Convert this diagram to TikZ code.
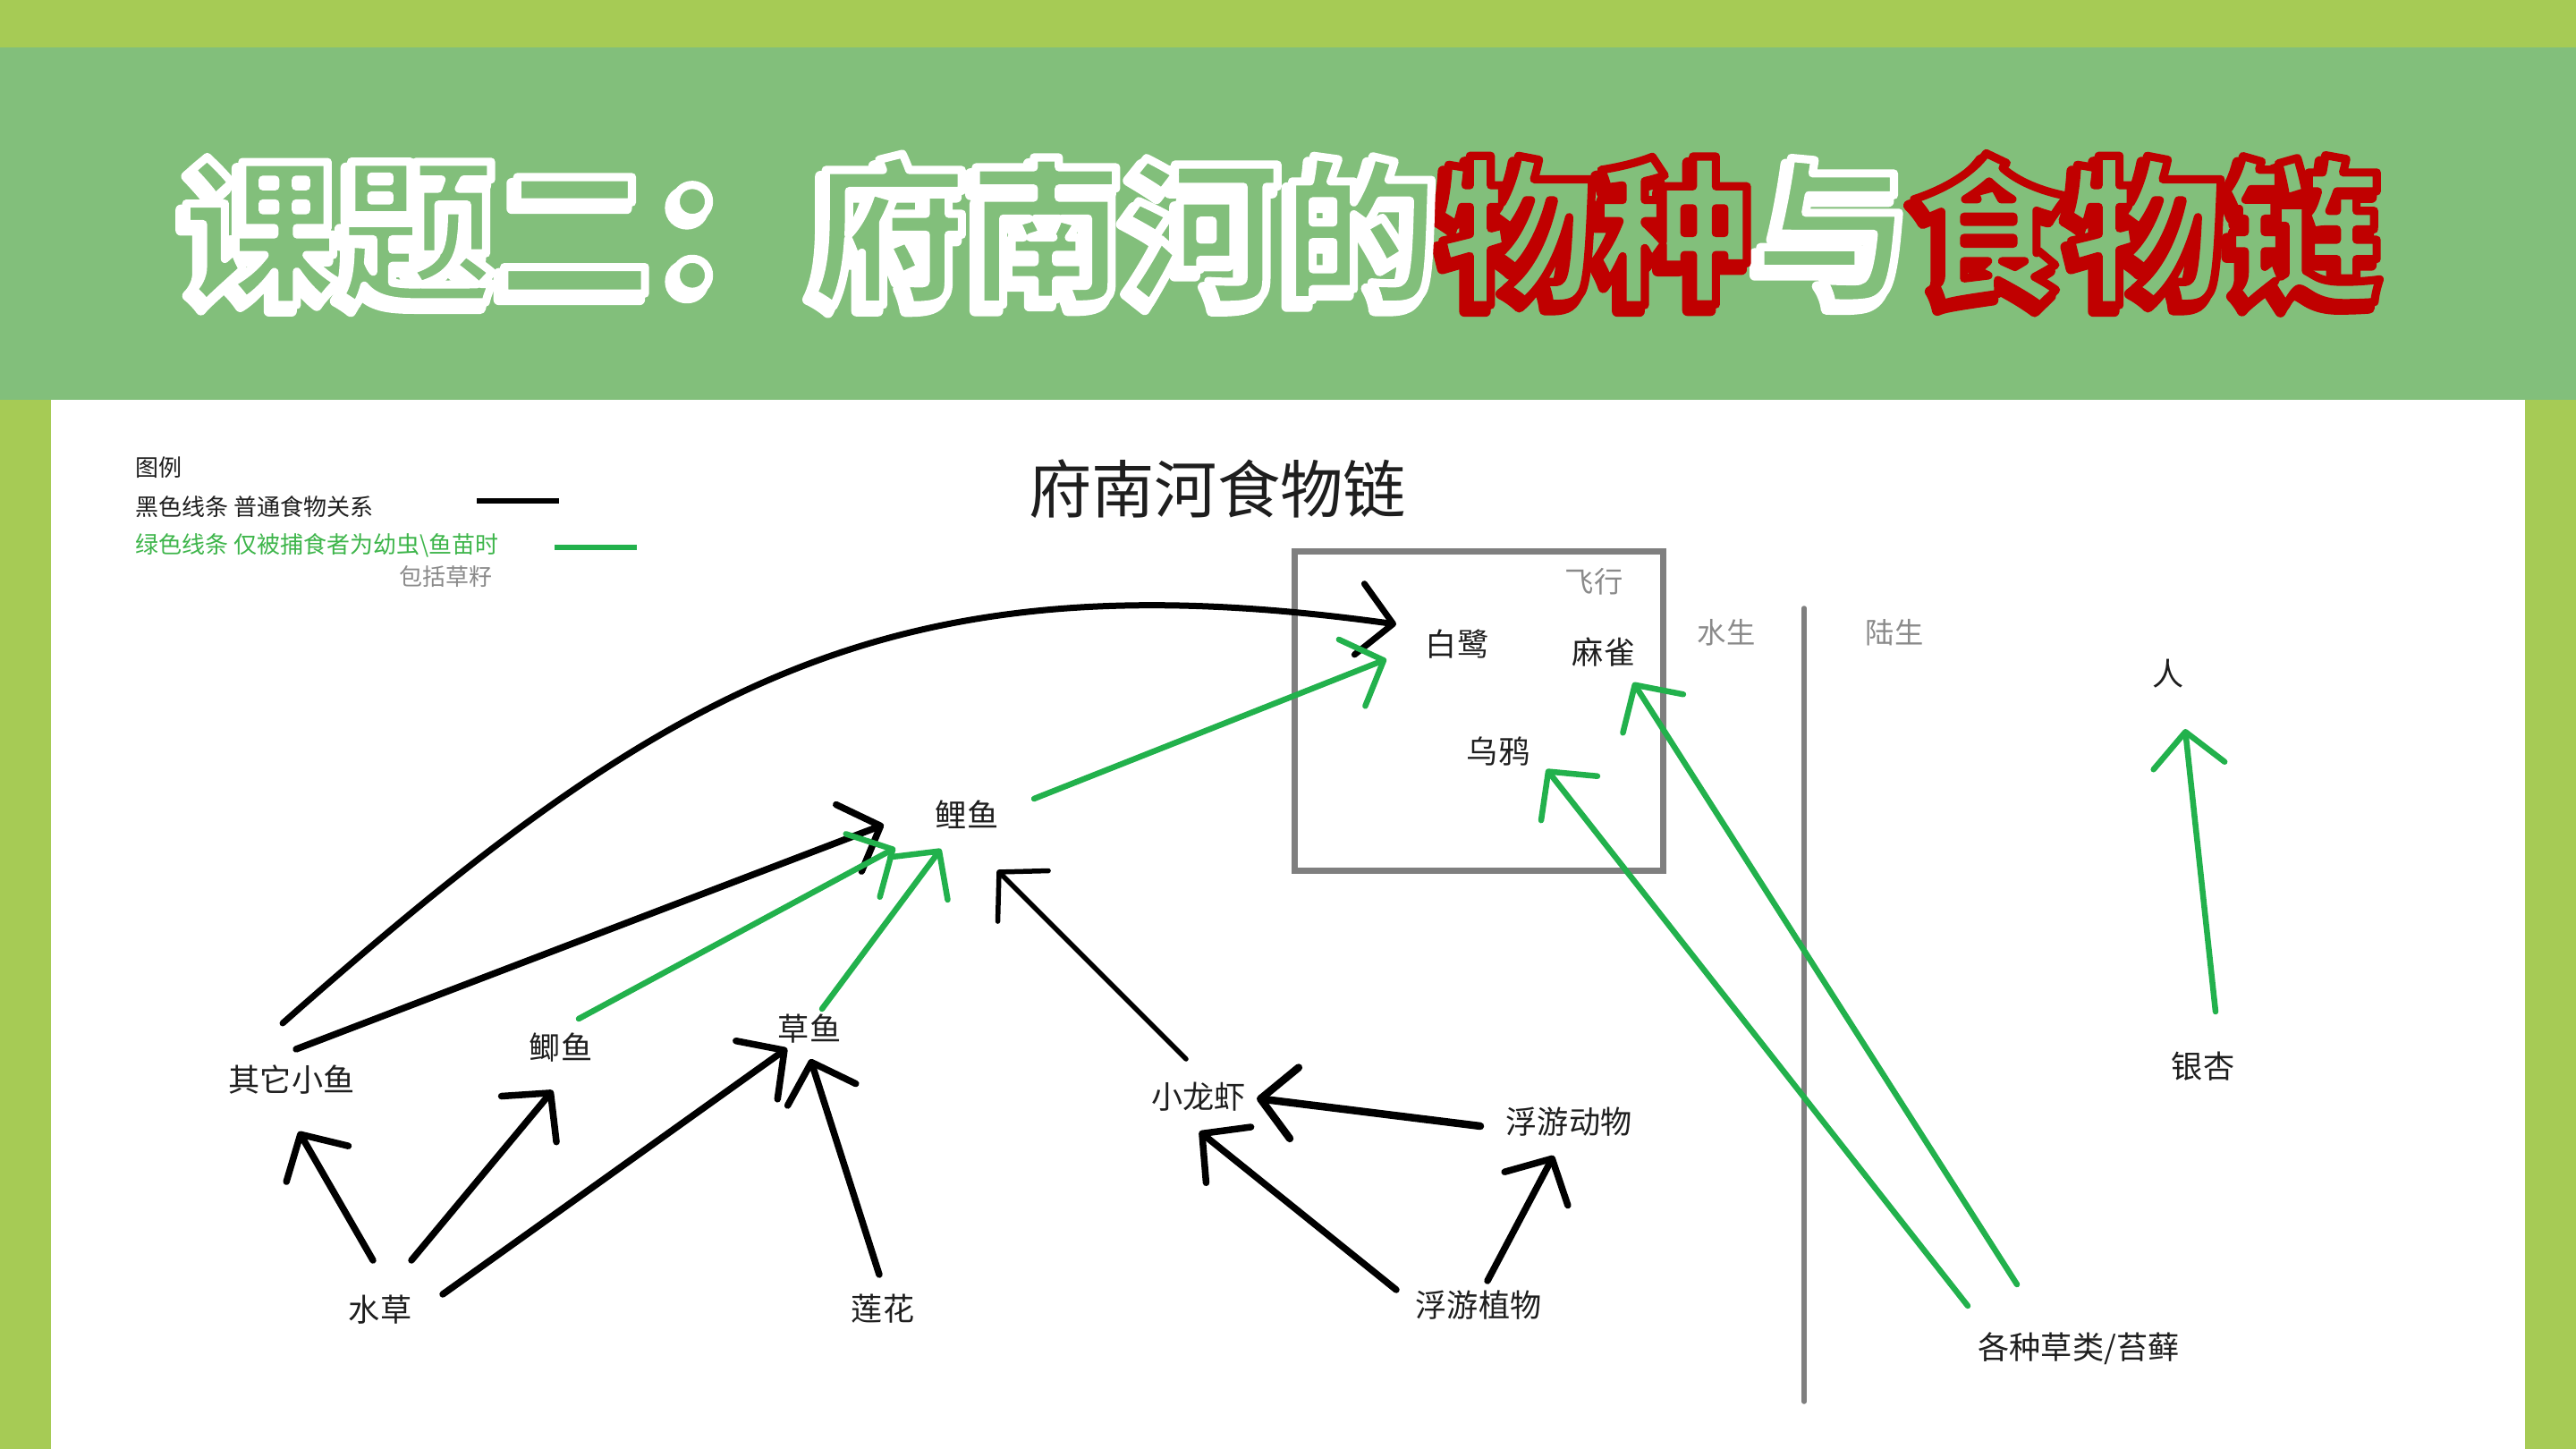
\documentclass[tikz,border=0pt]{standalone}
\usepackage{fontspec}
\setmainfont{Noto Sans CJK SC}
\usetikzlibrary{arrows.meta, calc}

\definecolor{limegreen}{HTML}{A6CB55}
\definecolor{bandgreen}{HTML}{82BF7B}
\definecolor{titlered}{HTML}{C00000}
\definecolor{paintgreen}{HTML}{22B14C}
\definecolor{keygreen}{HTML}{3DB54A}
\definecolor{boxgray}{HTML}{7F7F7F}
\definecolor{notegray}{HTML}{8A8A8A}
\definecolor{inkblack}{HTML}{1E1E1E}

% 描边标题: #1 线宽(bp), #2/#3 白字部分的填充色/描边rgb, #4/#5 红字部分的填充色/描边rgb
\newcommand{\outlined}[5]{\special{pdf:literal direct 1 j #1 w 2 Tr}%
	{\color{#2}\special{pdf:literal direct #3 RG}课题二：府南河的}%
	{\color{#4}\special{pdf:literal direct #5 RG}物种}%
	{\color{#2}\special{pdf:literal direct #3 RG}与}%
	{\color{#4}\special{pdf:literal direct #5 RG}食物链}%
	\special{pdf:literal direct 0 Tr}}

\begin{document}
\begin{tikzpicture}[
	species/.style={font=\fontsize{10}{12}\selectfont, text=inkblack, inner sep=1pt},
	note/.style={font=\fontsize{9.2}{11}\selectfont, text=notegray, inner sep=1pt},
	keytext/.style={font=\fontsize{7.4}{9}\selectfont, anchor=west, inner sep=0pt},
	titletext/.style={font=\fontsize{50}{60}\selectfont\bfseries, inner sep=0pt},
	eat/.style={draw=black, line width=0.075cm, line cap=round,
			-{Straight Barb[length=0.38cm, width=0.8cm, round]}},
	young/.style={eat, draw=paintgreen, line width=0.065cm},
]
	\useasboundingbox (0,0) rectangle (28.8,-16.2);

	% 背景
	\fill[limegreen] (0,0) rectangle (28.8,-16.2);
	\fill[bandgreen] (0,-0.53) rectangle (28.8,-4.47);
	\fill[white] (0.57,-4.47) rectangle (28.23,-16.2);

	% 标题(阴影 + 描边)
	\coordinate (titlepos) at (14.33,-2.57);
	\node[titletext] (titleshade) at ($(titlepos)+(-0.06,-0.07)$) {\outlined{3.4}{white}{1 1 1}{titlered}{0.753 0 0}};
	\node[titletext] (title) at (titlepos) {\outlined{2.6}{bandgreen}{1 1 1}{bandgreen}{0.753 0 0}};

	% 图例
	\node[keytext, text=inkblack] (legend) at (1.51,-5.23) {图例};
	\node[keytext, text=inkblack] (blackkey) at (1.51,-5.67) {黑色线条 普通食物关系};
	\node[keytext, text=keygreen] (greenkey) at (1.51,-6.10) {绿色线条 仅被捕食者为幼虫\textbackslash 鱼苗时};
	\node[keytext, text=notegray] (seednote) at (4.46,-6.45) {包括草籽};
	\draw[line width=0.06cm] (5.33,-5.60) -- (6.25,-5.60);
	\draw[paintgreen, line width=0.06cm] (6.20,-6.12) -- (7.12,-6.12);

	\node[font=\fontsize{20}{24}\selectfont, text=inkblack, inner sep=0pt] (foodweb) at (13.61,-5.47) {府南河食物链};

	% 飞行 / 水生 / 陆生
	\node[draw=boxgray, line width=0.07cm, minimum width=4.12cm, minimum height=3.56cm, inner sep=0pt] (flybox) at (16.53,-7.95) {};
	\node[note] (fly) at (17.82,-6.50) {飞行};
	\node[note] (water) at (19.30,-7.07) {水生};
	\node[note] (land) at (21.18,-7.07) {陆生};
	\draw[boxgray, line width=0.055cm, line cap=round] (20.17,-6.80) -- (20.17,-15.67);

	% 物种
	\node[species] (xiaoyu) at (3.26,-12.07) {其它小鱼};
	\node[species] (jiyu) at (6.27,-11.71) {鲫鱼};
	\node[species] (caoyu) at (9.05,-11.50) {草鱼};
	\node[species] (liyu) at (10.81,-9.11) {鲤鱼};
	\node[species] (longxia) at (13.40,-12.26) {小龙虾};
	\node[species] (shuicao) at (4.25,-14.64) {水草};
	\node[species] (lianhua) at (9.87,-14.63) {莲花};
	\node[species] (dongwu) at (17.54,-12.54) {浮游动物};
	\node[species] (zhiwu) at (16.53,-14.59) {浮游植物};
	\node[species] (bailu) at (16.29,-7.20) {白鹭};
	\node[species] (maque) at (17.93,-7.29) {麻雀};
	\node[species] (wuya) at (16.75,-8.40) {乌鸦};
	\node[species] (caolei) at (23.24,-15.08) {各种草类/苔藓};
	\node[species] (ren) at (24.24,-7.53) {人};
	\node[species] (yinxing) at (24.63,-11.92) {银杏};

	% 黑色箭头
	\draw[eat, line width=0.07cm] ([shift={(-0.10,0.63)}]xiaoyu.center) .. controls (7.50,-7.60) and (10.00,-6.20) .. ([shift={(-0.68,0.22)}]bailu.center);
	\draw[eat] ([shift={(0.05,0.34)}]xiaoyu.center) -- ([shift={(-0.93,-0.11)}]liyu.center);
	\draw[eat, line width=0.055cm] ([shift={(-0.14,0.42)}]longxia.center) -- ([shift={(0.34,-0.62)}]liyu.center);
	\draw[eat] ([shift={(-0.08,0.55)}]shuicao.center) -- ([shift={(0.08,-0.58)}]xiaoyu.center);
	\draw[eat] ([shift={(0.35,0.55)}]shuicao.center) -- ([shift={(-0.09,-0.48)}]jiyu.center);
	\draw[eat] ([shift={(0.70,0.17)}]shuicao.center) -- ([shift={(-0.25,-0.22)}]caoyu.center);
	\draw[eat] ([shift={(-0.04,0.38)}]lianhua.center) -- ([shift={(0.01,-0.34)}]caoyu.center);
	\draw[eat, line width=0.085cm] ([shift={(-0.99,-0.05)}]dongwu.center) -- ([shift={(0.65,-0.02)}]longxia.center);
	\draw[eat] ([shift={(-0.92,0.17)}]zhiwu.center) -- ([shift={(0.01,-0.39)}]longxia.center);
	\draw[eat] ([shift={(0.10,0.27)}]zhiwu.center) -- ([shift={(-0.17,-0.38)}]dongwu.center);

	% 绿色箭头
	\draw[young] ([shift={(0.20,0.32)}]jiyu.center) -- ([shift={(-0.80,-0.37)}]liyu.center);
	\draw[young] ([shift={(0.14,0.22)}]caoyu.center) -- ([shift={(-0.29,-0.38)}]liyu.center);
	\draw[young] ([shift={(0.75,0.18)}]liyu.center) -- ([shift={(-0.79,-0.17)}]bailu.center);
	\draw[young] ([shift={(-1.24,0.48)}]caolei.center) -- ([shift={(0.54,-0.20)}]wuya.center);
	\draw[young] ([shift={(-0.69,0.72)}]caolei.center) -- ([shift={(0.33,-0.34)}]maque.center);
	\draw[young] ([shift={(0.14,0.61)}]yinxing.center) -- ([shift={(0.19,-0.62)}]ren.center);

\end{tikzpicture}
\end{document}
